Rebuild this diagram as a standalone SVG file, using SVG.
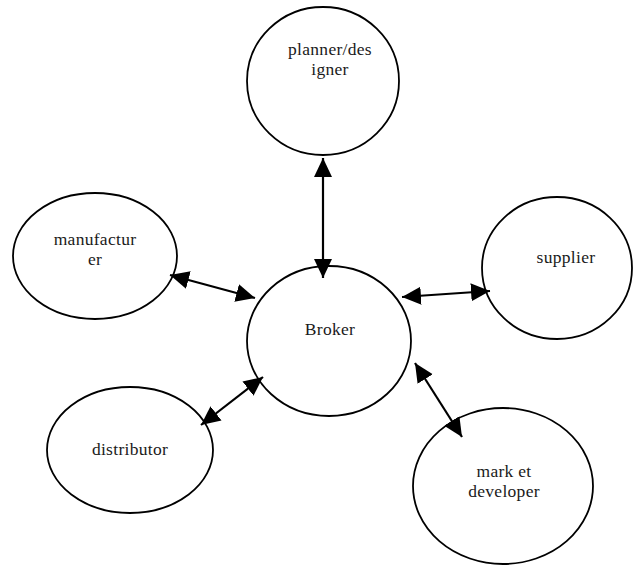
<svg xmlns="http://www.w3.org/2000/svg" width="636" height="567" viewBox="0 0 636 567">
<style>
.n{fill:#fff;stroke:#000;stroke-width:1.8}
.t{font-family:'Liberation Serif',serif;font-size:17.5px;letter-spacing:0.3px;fill:#1a1a1a;text-anchor:middle}
.c{stroke:#000;stroke-width:2.2;fill:none;marker-start:url(#ah);marker-end:url(#ah)}
</style>
<defs>
<marker id="ah" markerUnits="userSpaceOnUse" markerWidth="20" markerHeight="20" refX="19" refY="10" orient="auto-start-reverse">
<path d="M0,1 L19,10 L0,19 z" fill="#000"/>
</marker>
</defs>
<rect width="636" height="567" fill="#fff"/>
<g id="planner"><ellipse class="n" cx="323" cy="81" rx="76" ry="74"/><text class="t" x="330" y="55">planner/des</text><text class="t" x="330" y="75">igner</text></g>
<g id="manufacturer"><ellipse class="n" cx="95" cy="256" rx="82" ry="63"/><text class="t" x="95" y="245">manufactur</text><text class="t" x="95" y="265">er</text></g>
<g id="supplier"><ellipse class="n" cx="557" cy="268" rx="75" ry="71"/><text class="t" x="566" y="263">supplier</text></g>
<g id="broker"><ellipse class="n" cx="329" cy="341" rx="82" ry="75"/><text class="t" x="330" y="335">Broker</text></g>
<g id="distributor"><ellipse class="n" cx="130" cy="450" rx="83" ry="63"/><text class="t" x="130" y="455">distributor</text></g>
<g id="market"><ellipse class="n" cx="503" cy="486" rx="90" ry="78"/><text class="t" x="504" y="477">mark et</text><text class="t" x="504" y="497">developer</text></g>
<g id="connectors">
<line class="c" x1="323" y1="158" x2="323" y2="278"/>
<line class="c" x1="170" y1="275" x2="255" y2="298"/>
<line class="c" x1="402" y1="297" x2="490" y2="291"/>
<line class="c" x1="263" y1="377" x2="201" y2="425"/>
<line class="c" x1="415" y1="363" x2="462" y2="437"/>
</g>
</svg>
